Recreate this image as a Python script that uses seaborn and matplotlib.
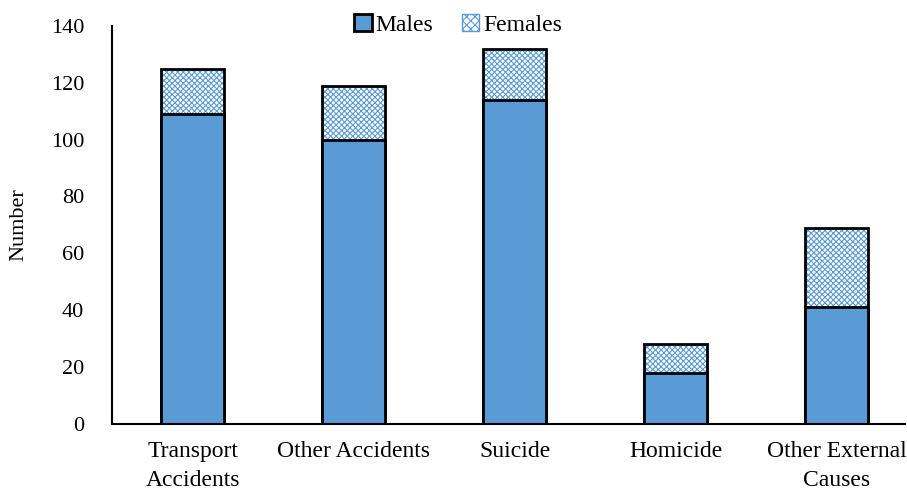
import numpy as np
import pandas as pd
import matplotlib
matplotlib.use("Agg")
import matplotlib.pyplot as plt
from matplotlib.patches import Patch
import seaborn as sns

categories = ["Transport\nAccidents", "Other Accidents", "Suicide", "Homicide", "Other External\nCauses"]
males = [109, 100, 114, 18, 41]
females = [16, 19, 18, 10, 28]

df = pd.DataFrame({"cause": categories, "Males": males, "Females": females})
df["Total"] = df["Males"] + df["Females"]

sns.set_theme(style="white")
plt.rcParams["font.family"] = ["Liberation Serif", "DejaVu Serif"]
plt.rcParams["hatch.linewidth"] = 0.8
plt.rcParams["text.color"] = "black"
plt.rcParams["axes.labelcolor"] = "black"
plt.rcParams["xtick.color"] = "black"
plt.rcParams["ytick.color"] = "black"

blue = "#5B9BD5"
fig = plt.figure(figsize=(9.07, 4.9), dpi=100)
ax = fig.add_axes([0.1235, 0.135, 0.8745, 0.812])

# females stacked on top: draw totals hatched, then males over it
sns.barplot(data=df, x="cause", y="Total", color="white", width=0.39, ax=ax,
            edgecolor=blue, linewidth=0, hatch="xxxxxx")
sns.barplot(data=df, x="cause", y="Total", color="black", width=0.39, ax=ax,
            fill=False, linewidth=2)
sns.barplot(data=df, x="cause", y="Males", color=blue, saturation=1, width=0.39, ax=ax,
            edgecolor="black", linewidth=2)

ax.set_ylim(0, 140)
ax.set_yticks(np.arange(0, 141, 20))
ax.set_xlim(-0.5, 4.425)
ax.set_xlabel("")
ax.set_ylabel("Number", fontsize=16, labelpad=16)
ax.tick_params(axis="x", labelsize=17, length=0, pad=12)
ax.tick_params(axis="y", labelsize=16, length=0, pad=20)
for lbl in ax.get_xticklabels():
    lbl.set_linespacing(1.5)
for s in ["top", "right"]:
    ax.spines[s].set_visible(False)
for s in ["left", "bottom"]:
    ax.spines[s].set_color("black")
    ax.spines[s].set_linewidth(1.5)

handles = [Patch(facecolor=blue, edgecolor="black", linewidth=2, label="Males"),
           Patch(facecolor="white", edgecolor=blue, hatch="xxxx", label="Females")]
leg = fig.legend(handles=handles, loc="upper center", bbox_to_anchor=(0.505, 1.015), ncol=2,
                 frameon=False, fontsize=17, handlelength=0.75, handleheight=0.75,
                 handletextpad=0.15, columnspacing=1.2)

fig.savefig("out.png", dpi=100)
